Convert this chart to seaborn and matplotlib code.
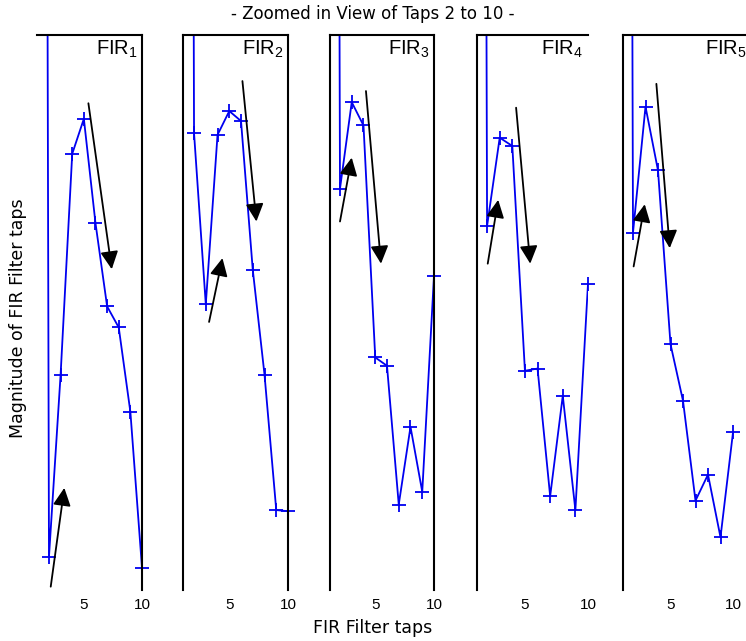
import matplotlib
matplotlib.use("Agg")
import matplotlib.pyplot as plt
import seaborn as sns
import pandas as pd

# Filter tap indices and normalised tap magnitudes for five FIR filters.
# Tap 1 is far larger than the rest and sits above the zoomed window.
taps = [1, 2, 3, 4, 5, 6, 7, 8, 9, 10]
fir1 = [8.0, 0.060, 0.388, 0.786, 0.849, 0.661, 0.511, 0.473, 0.321, 0.040]
fir2 = [8.0, 0.823, 0.515, 0.820, 0.863, 0.845, 0.577, 0.388, 0.144, 0.142]
fir3 = [8.0, 0.723, 0.879, 0.837, 0.419, 0.404, 0.154, 0.294, 0.177, 0.566]
fir4 = [8.0, 0.656, 0.815, 0.800, 0.395, 0.399, 0.169, 0.350, 0.144, 0.552]
fir5 = [8.0, 0.644, 0.871, 0.756, 0.443, 0.341, 0.161, 0.208, 0.095, 0.284]
panel_labels = ["FIR$_1$", "FIR$_2$", "FIR$_3$", "FIR$_4$", "FIR$_5$"]
tick_values = [5, 10]
tick_labels = ["5", "10"]

# Trend arrows per panel: (tail_x, tail_y, head_x, head_y)
rise_arrows = [(2.15, 0.006, 3.32, 0.184), (3.28, 0.483, 4.42, 0.598),
               (2.00, 0.664, 3.00, 0.779), (2.05, 0.588, 2.88, 0.703),
               (2.05, 0.583, 2.94, 0.695)]
fall_arrows = [(5.39, 0.877, 7.40, 0.578), (6.12, 0.917, 7.31, 0.664),
               (4.21, 0.899, 5.49, 0.588), (4.30, 0.869, 5.42, 0.588),
               (3.87, 0.912, 4.94, 0.616)]

series = [fir1, fir2, fir3, fir4, fir5]
frames = [pd.DataFrame({"tap": taps, "magnitude": s}) for s in series]

sns.set_style("white")
plt.rcParams["font.family"] = ["Liberation Sans", "DejaVu Sans"]
plt.rcParams["mathtext.default"] = "regular"
plt.rcParams["text.color"] = "black"
plt.rcParams["xtick.color"] = "black"

W, H = 746, 641
fig = plt.figure(figsize=(W / 100, H / 100), dpi=100)
fig.patch.set_facecolor("white")

# panel boxes in pixels: (left, right) and the x range shown in each
boxes = [(37, 142), (183, 288), (330, 434), (477, 588), (623, 748)]
xlims = [(0.97, 10), (1.06, 10), (1.15, 10), (1.2, 10), (1.2, 11.2)]
label_x = [0.96, 0.96, 0.96, 0.96, 0.99]
top_px, bot_px = 35, 590
blue = "#0000f0"

for i, (df, (l, r)) in enumerate(zip(frames, boxes)):
    ax = fig.add_axes([l / W, 1 - bot_px / H, (r - l) / W, (bot_px - top_px) / H])
    # connecting line, clipped to the zoom window
    sns.lineplot(data=df, x="tap", y="magnitude", ax=ax, color=blue,
                 linewidth=1.3)
    # tap markers inside the window, drawn unclipped at the panel edge
    inside = df[df["tap"] >= 2]
    sns.lineplot(data=inside, x="tap", y="magnitude", ax=ax, color=blue,
                 linestyle="", marker="+", markersize=10,
                 markeredgewidth=1.3, markeredgecolor=blue, clip_on=False)
    ax.set_xlim(*xlims[i])
    ax.set_ylim(0, 1)
    ax.set_xticks(tick_values)
    ax.set_xticklabels(tick_labels, fontsize=11, color="black")
    ax.set_yticks([])
    ax.tick_params(axis="x", length=0, pad=6)
    ax.set_xlabel("")
    ax.set_ylabel("")
    for side in ["top", "left", "right"]:
        ax.spines[side].set_color("black")
        ax.spines[side].set_linewidth(1.5)
    ax.spines["bottom"].set_visible(False)
    if i == 0:
        ax.spines["left"].set_visible(False)
    if i >= 3:
        ax.spines["right"].set_visible(False)
    ax.text(label_x[i], 0.993, panel_labels[i], transform=ax.transAxes,
            ha="right", va="top", fontsize=14.5, color="black")
    for (x0, y0, x1, y1) in (rise_arrows[i], fall_arrows[i]):
        ax.annotate("", xy=(x1, y1), xytext=(x0, y0),
                    arrowprops=dict(arrowstyle="-|>,head_length=0.6,head_width=0.3",
                                    mutation_scale=18, color="black", lw=1.3,
                                    shrinkA=0, shrinkB=0),
                    annotation_clip=False)

side_font = ["DejaVu Sans"]
fig.text(0.5, 1 - 14 / H, "- Zoomed in View of Taps 2 to 10 -",
         ha="center", va="center", fontsize=12, family=side_font, color="black")
fig.text(18 / W, 1 - 318 / H, "Magnitude of FIR Filter taps",
         ha="center", va="center", rotation=90, fontsize=12.5,
         family=side_font, color="black")
fig.text(0.5, 1 - 628 / H, "FIR Filter taps", ha="center", va="center",
         fontsize=12.5, family=side_font, color="black")

fig.savefig("out.png", dpi=100, facecolor="white")
